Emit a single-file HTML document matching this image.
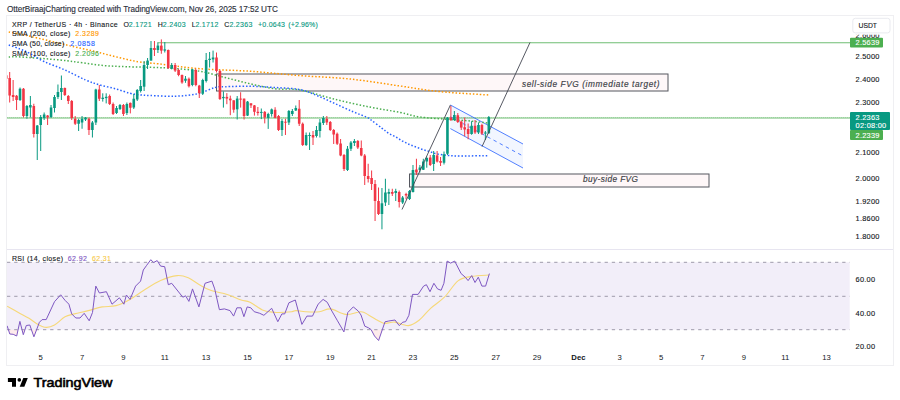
<!DOCTYPE html><html><head><meta charset="utf-8"><style>html,body{margin:0;padding:0;background:#fff;width:900px;height:400px;overflow:hidden}svg{display:block}text{font-family:"Liberation Sans",sans-serif}</style></head><body>
<svg width="900" height="400" viewBox="0 0 900 400">
<rect width="900" height="400" fill="#fff"/>
<text x="7" y="11.7" font-size="8.2" fill="#2a2e39" stroke="#2a2e39" stroke-width="0.12" textLength="270.8" lengthAdjust="spacing" >OtterBiraajCharting created with TradingView.com, Nov 26, 2025 17:52 UTC</text>
<rect x="6.5" y="15.5" width="887" height="350" fill="none" stroke="#efeff2" stroke-width="1"/>
<line x1="7" y1="249.5" x2="893" y2="249.5" stroke="#e7e5f0" stroke-width="1"/>
<defs><clipPath id="mp"><rect x="7" y="16" width="843" height="233"/></clipPath><clipPath id="rp"><rect x="7" y="250" width="843" height="100"/></clipPath></defs>
<g clip-path="url(#mp)">
<line x1="157.5" y1="42.75" x2="850" y2="42.75" stroke="#4caf50" stroke-width="1" opacity="0.8"/>
<line x1="7" y1="118" x2="850" y2="118" stroke="#4caf50" stroke-width="1" opacity="0.8"/>
<line x1="7" y1="117.5" x2="850" y2="117.5" stroke="#4caf50" stroke-width="1" stroke-dasharray="1 1" opacity="0.25"/>
<rect x="216.5" y="74" width="451.5" height="17" fill="#f23645" fill-opacity="0.04" stroke="#55575f" stroke-width="1"/>
<rect x="409.5" y="174" width="299.5" height="13" fill="#f23645" fill-opacity="0.04" stroke="#55575f" stroke-width="1"/>
<polygon points="450.4,105 523,144 523,168 450.4,128.6" fill="#2962ff" fill-opacity="0.06"/>
<line x1="450.4" y1="105" x2="523" y2="144" stroke="#2962ff" stroke-width="1" opacity="0.8"/>
<line x1="450.4" y1="128.6" x2="523" y2="168" stroke="#2962ff" stroke-width="1" opacity="0.8"/>
<line x1="450.4" y1="116.8" x2="523" y2="156" stroke="#2962ff" stroke-width="1" stroke-dasharray="3.5 3.5" opacity="0.8"/>
<path d="M8.75,32.00 C12.29,32.71 20.34,34.08 30.00,36.25 C39.66,38.42 56.15,42.52 66.70,45.00 C77.25,47.48 85.15,49.15 93.30,51.10 C101.45,53.05 108.18,54.93 115.60,56.70 C123.02,58.47 130.58,60.50 137.80,61.70 C145.02,62.90 148.53,62.73 158.90,63.90 C169.27,65.08 184.82,67.53 200.00,68.75 C215.18,69.97 233.33,70.11 250.00,71.25 C266.67,72.39 283.33,74.31 300.00,75.60 C316.67,76.89 333.33,77.27 350.00,79.00 C366.67,80.73 385.00,83.90 400.00,86.00 C415.00,88.10 425.17,90.10 440.00,91.60 C454.83,93.10 480.83,94.43 489.00,95.00" fill="none" stroke="#ff9800" stroke-width="1.5" stroke-dasharray="1.5 1.95"/>
<path d="M8.75,57.00 C10.62,56.98 11.46,56.40 20.00,56.90 C28.54,57.40 49.63,59.02 60.00,60.00 C70.37,60.98 74.80,61.87 82.20,62.80 C89.60,63.73 96.98,64.95 104.40,65.60 C111.82,66.25 117.62,66.37 126.70,66.70 C135.78,67.03 150.85,67.30 158.90,67.60 C166.95,67.90 168.15,67.89 175.00,68.50 C181.85,69.11 191.67,69.75 200.00,71.25 C208.33,72.75 216.67,75.42 225.00,77.50 C233.33,79.58 241.67,81.88 250.00,83.75 C258.33,85.62 266.67,87.71 275.00,88.75 C283.33,89.79 290.00,88.24 300.00,90.00 C310.00,91.76 323.33,96.45 335.00,99.30 C346.67,102.15 359.17,104.92 370.00,107.10 C380.83,109.28 391.67,110.75 400.00,112.40 C408.33,114.05 411.67,115.82 420.00,117.00 C428.33,118.18 441.67,118.83 450.00,119.50 C458.33,120.17 463.67,120.42 470.00,121.00 C476.33,121.58 485.00,122.67 488.00,123.00" fill="none" stroke="#4caf50" stroke-width="1.5" stroke-dasharray="1.5 1.95"/>
<path d="M8.75,45.00 C10.62,45.67 16.46,47.58 20.00,49.00 C23.54,50.42 26.00,51.42 30.00,53.50 C34.00,55.58 38.17,58.75 44.00,61.50 C49.83,64.25 58.07,66.92 65.00,70.00 C71.93,73.08 79.77,77.50 85.60,80.00 C91.43,82.50 94.93,83.52 100.00,85.00 C105.07,86.48 111.00,87.52 116.00,88.90 C121.00,90.28 126.00,92.30 130.00,93.30 C134.00,94.30 136.67,94.53 140.00,94.90 C143.33,95.27 144.17,95.28 150.00,95.50 C155.83,95.72 167.08,96.54 175.00,96.25 C182.92,95.96 190.83,95.21 197.50,93.75 C204.17,92.29 210.42,88.67 215.00,87.50 C219.58,86.33 219.17,86.96 225.00,86.75 C230.83,86.54 241.67,86.12 250.00,86.25 C258.33,86.38 266.67,86.94 275.00,87.50 C283.33,88.06 292.92,88.22 300.00,89.60 C307.08,90.97 311.67,93.42 317.50,95.75 C323.33,98.08 329.17,100.97 335.00,103.60 C340.83,106.22 347.25,109.25 352.50,111.50 C357.75,113.75 363.40,115.68 366.50,117.10 C369.60,118.52 368.55,118.17 371.10,120.00 C373.65,121.83 378.88,125.88 381.80,128.10 C384.72,130.32 386.25,131.80 388.60,133.30 C390.95,134.80 393.57,135.80 395.90,137.10 C398.23,138.40 400.35,139.87 402.60,141.10 C404.85,142.33 407.15,143.52 409.40,144.50 C411.65,145.48 413.77,146.12 416.10,147.00 C418.43,147.88 421.15,149.05 423.40,149.80 C425.65,150.55 427.43,150.84 429.60,151.50 C431.77,152.16 433.40,153.10 436.40,153.75 C439.40,154.40 443.67,155.03 447.60,155.40 C451.53,155.78 453.10,155.97 460.00,156.00 C466.90,156.03 484.17,155.67 489.00,155.60" fill="none" stroke="#2962ff" stroke-width="1.5" stroke-dasharray="1.5 1.95"/>
<rect x="5.73" y="75.30" width="1" height="3.45" fill="#f23645"/>
<rect x="4.93" y="75.30" width="2.6" height="3.45" fill="#f23645"/>
<rect x="9.18" y="72.00" width="1" height="30.50" fill="#f23645"/>
<rect x="8.38" y="78.00" width="2.6" height="17.50" fill="#f23645"/>
<rect x="12.62" y="80.00" width="1" height="21.00" fill="#f23645"/>
<rect x="11.82" y="95.00" width="2.6" height="2.00" fill="#f23645"/>
<rect x="16.07" y="95.00" width="1" height="15.00" fill="#f23645"/>
<rect x="15.27" y="95.75" width="2.6" height="4.25" fill="#f23645"/>
<rect x="19.52" y="87.50" width="1" height="13.50" fill="#089981"/>
<rect x="18.72" y="88.75" width="2.6" height="11.25" fill="#089981"/>
<rect x="22.97" y="88.00" width="1" height="29.50" fill="#f23645"/>
<rect x="22.17" y="88.75" width="2.6" height="27.25" fill="#f23645"/>
<rect x="26.41" y="105.00" width="1" height="13.75" fill="#089981"/>
<rect x="25.61" y="106.00" width="2.6" height="10.00" fill="#089981"/>
<rect x="29.86" y="96.00" width="1" height="21.50" fill="#089981"/>
<rect x="29.06" y="105.00" width="2.6" height="2.50" fill="#089981"/>
<rect x="33.31" y="103.75" width="1" height="33.75" fill="#f23645"/>
<rect x="32.51" y="106.00" width="2.6" height="28.00" fill="#f23645"/>
<rect x="36.75" y="125.00" width="1" height="35.00" fill="#089981"/>
<rect x="35.95" y="125.50" width="2.6" height="8.50" fill="#089981"/>
<rect x="40.20" y="115.00" width="1" height="36.00" fill="#089981"/>
<rect x="39.40" y="117.00" width="2.6" height="8.00" fill="#089981"/>
<rect x="43.65" y="112.50" width="1" height="7.50" fill="#089981"/>
<rect x="42.85" y="114.50" width="2.6" height="3.50" fill="#089981"/>
<rect x="47.09" y="115.00" width="1" height="10.00" fill="#f23645"/>
<rect x="46.29" y="115.50" width="2.6" height="2.00" fill="#f23645"/>
<rect x="50.54" y="105.00" width="1" height="13.00" fill="#089981"/>
<rect x="49.74" y="107.50" width="2.6" height="9.50" fill="#089981"/>
<rect x="53.99" y="95.00" width="1" height="17.50" fill="#089981"/>
<rect x="53.19" y="97.00" width="2.6" height="11.00" fill="#089981"/>
<rect x="57.44" y="84.50" width="1" height="14.50" fill="#089981"/>
<rect x="56.64" y="92.00" width="2.6" height="5.00" fill="#089981"/>
<rect x="60.88" y="75.50" width="1" height="24.50" fill="#089981"/>
<rect x="60.08" y="88.00" width="2.6" height="4.00" fill="#089981"/>
<rect x="64.33" y="87.50" width="1" height="8.50" fill="#f23645"/>
<rect x="63.53" y="88.00" width="2.6" height="7.00" fill="#f23645"/>
<rect x="67.78" y="95.00" width="1" height="9.00" fill="#f23645"/>
<rect x="66.98" y="96.00" width="2.6" height="5.00" fill="#f23645"/>
<rect x="71.22" y="100.00" width="1" height="20.00" fill="#f23645"/>
<rect x="70.42" y="101.00" width="2.6" height="17.00" fill="#f23645"/>
<rect x="74.67" y="116.00" width="1" height="9.00" fill="#f23645"/>
<rect x="73.87" y="118.75" width="2.6" height="5.00" fill="#f23645"/>
<rect x="78.12" y="118.75" width="1" height="12.25" fill="#089981"/>
<rect x="77.32" y="120.00" width="2.6" height="3.75" fill="#089981"/>
<rect x="81.56" y="116.00" width="1" height="12.75" fill="#089981"/>
<rect x="80.76" y="118.75" width="2.6" height="3.75" fill="#089981"/>
<rect x="85.01" y="117.00" width="1" height="4.00" fill="#089981"/>
<rect x="84.21" y="117.50" width="2.6" height="2.00" fill="#089981"/>
<rect x="88.46" y="117.50" width="1" height="17.50" fill="#f23645"/>
<rect x="87.66" y="118.75" width="2.6" height="11.25" fill="#f23645"/>
<rect x="91.91" y="121.00" width="1" height="16.50" fill="#089981"/>
<rect x="91.11" y="122.50" width="2.6" height="7.50" fill="#089981"/>
<rect x="95.35" y="88.75" width="1" height="36.25" fill="#089981"/>
<rect x="94.55" y="89.50" width="2.6" height="33.00" fill="#089981"/>
<rect x="98.80" y="85.00" width="1" height="16.00" fill="#f23645"/>
<rect x="98.00" y="89.50" width="2.6" height="9.25" fill="#f23645"/>
<rect x="102.25" y="93.30" width="1" height="8.30" fill="#089981"/>
<rect x="101.45" y="97.70" width="2.6" height="1.30" fill="#089981"/>
<rect x="105.69" y="93.30" width="1" height="10.10" fill="#089981"/>
<rect x="104.89" y="96.80" width="2.6" height="1.30" fill="#089981"/>
<rect x="109.14" y="94.50" width="1" height="10.50" fill="#f23645"/>
<rect x="108.34" y="96.00" width="2.6" height="8.00" fill="#f23645"/>
<rect x="112.59" y="102.50" width="1" height="12.50" fill="#f23645"/>
<rect x="111.79" y="104.00" width="2.6" height="10.00" fill="#f23645"/>
<rect x="116.03" y="106.00" width="1" height="8.00" fill="#089981"/>
<rect x="115.23" y="108.00" width="2.6" height="5.00" fill="#089981"/>
<rect x="119.48" y="104.00" width="1" height="6.00" fill="#089981"/>
<rect x="118.68" y="105.00" width="2.6" height="4.00" fill="#089981"/>
<rect x="122.93" y="104.00" width="1" height="12.00" fill="#f23645"/>
<rect x="122.13" y="105.00" width="2.6" height="9.00" fill="#f23645"/>
<rect x="126.38" y="102.50" width="1" height="12.50" fill="#089981"/>
<rect x="125.58" y="104.00" width="2.6" height="9.00" fill="#089981"/>
<rect x="129.82" y="102.50" width="1" height="10.90" fill="#f23645"/>
<rect x="129.02" y="102.90" width="2.6" height="4.85" fill="#f23645"/>
<rect x="133.27" y="94.00" width="1" height="15.00" fill="#089981"/>
<rect x="132.47" y="98.75" width="2.6" height="8.75" fill="#089981"/>
<rect x="136.72" y="89.00" width="1" height="12.00" fill="#089981"/>
<rect x="135.92" y="90.00" width="2.6" height="9.50" fill="#089981"/>
<rect x="140.16" y="80.00" width="1" height="12.50" fill="#089981"/>
<rect x="139.36" y="86.00" width="2.6" height="5.00" fill="#089981"/>
<rect x="143.61" y="61.00" width="1" height="30.00" fill="#089981"/>
<rect x="142.81" y="65.00" width="2.6" height="21.70" fill="#089981"/>
<rect x="147.06" y="58.00" width="1" height="11.00" fill="#089981"/>
<rect x="146.26" y="60.60" width="2.6" height="4.40" fill="#089981"/>
<rect x="150.50" y="41.00" width="1" height="19.60" fill="#089981"/>
<rect x="149.70" y="48.00" width="2.6" height="12.60" fill="#089981"/>
<rect x="153.95" y="41.00" width="1" height="15.00" fill="#f23645"/>
<rect x="153.15" y="48.00" width="2.6" height="2.00" fill="#f23645"/>
<rect x="157.40" y="42.50" width="1" height="10.50" fill="#089981"/>
<rect x="156.60" y="45.60" width="2.6" height="4.40" fill="#089981"/>
<rect x="160.84" y="39.40" width="1" height="14.35" fill="#f23645"/>
<rect x="160.04" y="45.60" width="2.6" height="5.00" fill="#f23645"/>
<rect x="164.29" y="42.00" width="1" height="10.50" fill="#089981"/>
<rect x="163.49" y="49.40" width="2.6" height="1.20" fill="#089981"/>
<rect x="167.74" y="49.50" width="1" height="19.50" fill="#f23645"/>
<rect x="166.94" y="50.00" width="2.6" height="18.00" fill="#f23645"/>
<rect x="171.19" y="63.00" width="1" height="6.40" fill="#089981"/>
<rect x="170.39" y="65.00" width="2.6" height="3.75" fill="#089981"/>
<rect x="174.63" y="63.00" width="1" height="9.00" fill="#f23645"/>
<rect x="173.83" y="65.00" width="2.6" height="5.60" fill="#f23645"/>
<rect x="178.08" y="68.75" width="1" height="7.50" fill="#f23645"/>
<rect x="177.28" y="70.00" width="2.6" height="5.00" fill="#f23645"/>
<rect x="181.53" y="74.50" width="1" height="9.25" fill="#f23645"/>
<rect x="180.73" y="75.00" width="2.6" height="7.50" fill="#f23645"/>
<rect x="184.97" y="76.00" width="1" height="6.80" fill="#089981"/>
<rect x="184.17" y="78.70" width="2.6" height="2.05" fill="#089981"/>
<rect x="188.42" y="77.50" width="1" height="10.00" fill="#f23645"/>
<rect x="187.62" y="78.75" width="2.6" height="7.50" fill="#f23645"/>
<rect x="191.87" y="68.75" width="1" height="17.50" fill="#089981"/>
<rect x="191.07" y="69.50" width="2.6" height="15.50" fill="#089981"/>
<rect x="195.31" y="68.75" width="1" height="17.50" fill="#f23645"/>
<rect x="194.51" y="70.00" width="2.6" height="15.00" fill="#f23645"/>
<rect x="198.76" y="84.90" width="1" height="13.10" fill="#f23645"/>
<rect x="197.96" y="85.60" width="2.6" height="7.50" fill="#f23645"/>
<rect x="202.21" y="78.75" width="1" height="16.25" fill="#089981"/>
<rect x="201.41" y="80.00" width="2.6" height="13.75" fill="#089981"/>
<rect x="205.66" y="53.00" width="1" height="29.50" fill="#089981"/>
<rect x="204.86" y="60.00" width="2.6" height="21.00" fill="#089981"/>
<rect x="209.10" y="52.00" width="1" height="15.50" fill="#089981"/>
<rect x="208.30" y="58.75" width="2.6" height="1.25" fill="#089981"/>
<rect x="212.55" y="50.60" width="1" height="11.90" fill="#089981"/>
<rect x="211.75" y="57.50" width="2.6" height="1.90" fill="#089981"/>
<rect x="216.00" y="52.50" width="1" height="20.00" fill="#f23645"/>
<rect x="215.20" y="57.50" width="2.6" height="13.50" fill="#f23645"/>
<rect x="219.44" y="70.00" width="1" height="30.00" fill="#f23645"/>
<rect x="218.64" y="71.00" width="2.6" height="28.00" fill="#f23645"/>
<rect x="222.89" y="91.40" width="1" height="16.20" fill="#089981"/>
<rect x="222.09" y="96.90" width="2.6" height="1.30" fill="#089981"/>
<rect x="226.34" y="93.10" width="1" height="11.10" fill="#f23645"/>
<rect x="225.54" y="96.90" width="2.6" height="1.70" fill="#f23645"/>
<rect x="229.79" y="95.65" width="1" height="19.55" fill="#f23645"/>
<rect x="228.99" y="98.60" width="2.6" height="1.70" fill="#f23645"/>
<rect x="233.23" y="100.30" width="1" height="12.40" fill="#f23645"/>
<rect x="232.43" y="100.30" width="2.6" height="9.40" fill="#f23645"/>
<rect x="236.68" y="96.00" width="1" height="23.50" fill="#089981"/>
<rect x="235.88" y="98.60" width="2.6" height="10.70" fill="#089981"/>
<rect x="240.13" y="92.25" width="1" height="15.35" fill="#f23645"/>
<rect x="239.33" y="98.60" width="2.6" height="1.00" fill="#f23645"/>
<rect x="243.57" y="98.60" width="1" height="20.90" fill="#f23645"/>
<rect x="242.77" y="98.60" width="2.6" height="17.40" fill="#f23645"/>
<rect x="247.02" y="101.00" width="1" height="15.00" fill="#089981"/>
<rect x="246.22" y="101.60" width="2.6" height="14.00" fill="#089981"/>
<rect x="250.47" y="103.30" width="1" height="4.70" fill="#f23645"/>
<rect x="249.67" y="103.30" width="2.6" height="2.10" fill="#f23645"/>
<rect x="253.91" y="105.00" width="1" height="10.60" fill="#f23645"/>
<rect x="253.11" y="105.40" width="2.6" height="6.40" fill="#f23645"/>
<rect x="257.36" y="107.00" width="1" height="8.60" fill="#f23645"/>
<rect x="256.56" y="111.80" width="2.6" height="1.20" fill="#f23645"/>
<rect x="260.81" y="108.50" width="1" height="10.60" fill="#089981"/>
<rect x="260.01" y="111.90" width="2.6" height="1.00" fill="#089981"/>
<rect x="264.25" y="111.00" width="1" height="12.40" fill="#f23645"/>
<rect x="263.45" y="111.90" width="2.6" height="5.50" fill="#f23645"/>
<rect x="267.70" y="112.75" width="1" height="16.15" fill="#089981"/>
<rect x="266.90" y="114.00" width="2.6" height="3.90" fill="#089981"/>
<rect x="271.15" y="108.50" width="1" height="8.10" fill="#089981"/>
<rect x="270.35" y="109.35" width="2.6" height="4.65" fill="#089981"/>
<rect x="274.60" y="107.20" width="1" height="11.10" fill="#f23645"/>
<rect x="273.80" y="109.80" width="2.6" height="8.10" fill="#f23645"/>
<rect x="278.04" y="115.00" width="1" height="16.00" fill="#f23645"/>
<rect x="277.24" y="116.00" width="2.6" height="14.00" fill="#f23645"/>
<rect x="281.49" y="119.00" width="1" height="17.00" fill="#089981"/>
<rect x="280.69" y="121.00" width="2.6" height="9.00" fill="#089981"/>
<rect x="284.94" y="118.70" width="1" height="16.30" fill="#f23645"/>
<rect x="284.14" y="121.70" width="2.6" height="1.00" fill="#f23645"/>
<rect x="288.38" y="110.00" width="1" height="15.00" fill="#089981"/>
<rect x="287.58" y="111.00" width="2.6" height="11.50" fill="#089981"/>
<rect x="291.83" y="109.00" width="1" height="7.00" fill="#089981"/>
<rect x="291.03" y="111.00" width="2.6" height="3.00" fill="#089981"/>
<rect x="295.28" y="105.50" width="1" height="5.50" fill="#089981"/>
<rect x="294.48" y="108.00" width="2.6" height="2.50" fill="#089981"/>
<rect x="298.72" y="100.00" width="1" height="26.00" fill="#f23645"/>
<rect x="297.92" y="108.75" width="2.6" height="15.00" fill="#f23645"/>
<rect x="302.17" y="122.50" width="1" height="23.50" fill="#f23645"/>
<rect x="301.37" y="123.75" width="2.6" height="21.25" fill="#f23645"/>
<rect x="305.62" y="132.50" width="1" height="13.50" fill="#089981"/>
<rect x="304.82" y="135.00" width="2.6" height="10.00" fill="#089981"/>
<rect x="309.07" y="132.50" width="1" height="17.50" fill="#089981"/>
<rect x="308.27" y="135.00" width="2.6" height="1.00" fill="#089981"/>
<rect x="312.51" y="131.00" width="1" height="14.00" fill="#f23645"/>
<rect x="311.71" y="135.00" width="2.6" height="2.50" fill="#f23645"/>
<rect x="315.96" y="126.00" width="1" height="11.50" fill="#089981"/>
<rect x="315.16" y="130.00" width="2.6" height="6.00" fill="#089981"/>
<rect x="319.41" y="119.00" width="1" height="18.50" fill="#089981"/>
<rect x="318.61" y="122.50" width="2.6" height="8.50" fill="#089981"/>
<rect x="322.85" y="116.00" width="1" height="9.00" fill="#089981"/>
<rect x="322.05" y="118.00" width="2.6" height="5.00" fill="#089981"/>
<rect x="326.30" y="116.00" width="1" height="9.00" fill="#f23645"/>
<rect x="325.50" y="118.75" width="2.6" height="3.75" fill="#f23645"/>
<rect x="329.75" y="121.00" width="1" height="10.00" fill="#f23645"/>
<rect x="328.95" y="122.00" width="2.6" height="8.00" fill="#f23645"/>
<rect x="333.19" y="129.00" width="1" height="15.00" fill="#f23645"/>
<rect x="332.39" y="130.00" width="2.6" height="4.50" fill="#f23645"/>
<rect x="336.64" y="132.50" width="1" height="12.50" fill="#f23645"/>
<rect x="335.84" y="133.75" width="2.6" height="10.00" fill="#f23645"/>
<rect x="340.09" y="139.00" width="1" height="17.25" fill="#f23645"/>
<rect x="339.29" y="143.50" width="2.6" height="12.00" fill="#f23645"/>
<rect x="343.54" y="154.00" width="1" height="17.00" fill="#f23645"/>
<rect x="342.74" y="155.00" width="2.6" height="14.00" fill="#f23645"/>
<rect x="346.98" y="146.00" width="1" height="25.00" fill="#089981"/>
<rect x="346.18" y="148.75" width="2.6" height="21.25" fill="#089981"/>
<rect x="350.43" y="141.00" width="1" height="10.00" fill="#089981"/>
<rect x="349.63" y="142.50" width="2.6" height="6.25" fill="#089981"/>
<rect x="353.88" y="139.00" width="1" height="7.00" fill="#089981"/>
<rect x="353.08" y="141.00" width="2.6" height="2.00" fill="#089981"/>
<rect x="357.32" y="140.00" width="1" height="9.00" fill="#f23645"/>
<rect x="356.52" y="141.00" width="2.6" height="6.50" fill="#f23645"/>
<rect x="360.77" y="140.50" width="1" height="15.75" fill="#f23645"/>
<rect x="359.97" y="148.00" width="2.6" height="7.50" fill="#f23645"/>
<rect x="364.22" y="154.00" width="1" height="31.00" fill="#f23645"/>
<rect x="363.42" y="155.50" width="2.6" height="20.50" fill="#f23645"/>
<rect x="367.67" y="163.75" width="1" height="18.75" fill="#f23645"/>
<rect x="366.87" y="176.00" width="2.6" height="3.00" fill="#f23645"/>
<rect x="371.11" y="170.50" width="1" height="19.50" fill="#f23645"/>
<rect x="370.31" y="178.00" width="2.6" height="6.00" fill="#f23645"/>
<rect x="374.56" y="180.00" width="1" height="41.00" fill="#f23645"/>
<rect x="373.76" y="184.00" width="2.6" height="17.00" fill="#f23645"/>
<rect x="378.01" y="187.50" width="1" height="27.50" fill="#f23645"/>
<rect x="377.21" y="201.00" width="2.6" height="13.00" fill="#f23645"/>
<rect x="381.45" y="188.00" width="1" height="41.30" fill="#089981"/>
<rect x="380.65" y="203.30" width="2.6" height="10.70" fill="#089981"/>
<rect x="384.90" y="178.75" width="1" height="27.25" fill="#089981"/>
<rect x="384.10" y="192.50" width="2.6" height="10.00" fill="#089981"/>
<rect x="388.35" y="188.75" width="1" height="16.25" fill="#089981"/>
<rect x="387.55" y="192.00" width="2.6" height="1.75" fill="#089981"/>
<rect x="391.79" y="188.75" width="1" height="7.25" fill="#f23645"/>
<rect x="390.99" y="192.00" width="2.6" height="1.75" fill="#f23645"/>
<rect x="395.24" y="188.75" width="1" height="12.25" fill="#089981"/>
<rect x="394.44" y="191.00" width="2.6" height="2.00" fill="#089981"/>
<rect x="398.69" y="190.50" width="1" height="17.00" fill="#f23645"/>
<rect x="397.89" y="192.00" width="2.6" height="10.00" fill="#f23645"/>
<rect x="402.13" y="196.00" width="1" height="8.00" fill="#089981"/>
<rect x="401.33" y="197.50" width="2.6" height="5.00" fill="#089981"/>
<rect x="405.58" y="192.75" width="1" height="6.55" fill="#f23645"/>
<rect x="404.78" y="194.00" width="2.6" height="1.50" fill="#f23645"/>
<rect x="409.03" y="190.00" width="1" height="10.00" fill="#089981"/>
<rect x="408.23" y="191.00" width="2.6" height="8.00" fill="#089981"/>
<rect x="412.48" y="165.00" width="1" height="27.50" fill="#089981"/>
<rect x="411.68" y="170.00" width="2.6" height="22.00" fill="#089981"/>
<rect x="415.92" y="158.75" width="1" height="16.25" fill="#f23645"/>
<rect x="415.12" y="169.50" width="2.6" height="3.00" fill="#f23645"/>
<rect x="419.37" y="165.00" width="1" height="7.50" fill="#089981"/>
<rect x="418.57" y="167.50" width="2.6" height="2.50" fill="#089981"/>
<rect x="422.82" y="158.75" width="1" height="11.25" fill="#089981"/>
<rect x="422.02" y="161.50" width="2.6" height="8.25" fill="#089981"/>
<rect x="426.26" y="156.70" width="1" height="11.00" fill="#089981"/>
<rect x="425.46" y="158.00" width="2.6" height="3.50" fill="#089981"/>
<rect x="429.71" y="155.00" width="1" height="11.00" fill="#f23645"/>
<rect x="428.91" y="157.50" width="2.6" height="7.50" fill="#f23645"/>
<rect x="433.16" y="151.00" width="1" height="20.00" fill="#089981"/>
<rect x="432.36" y="155.00" width="2.6" height="9.00" fill="#089981"/>
<rect x="436.61" y="151.00" width="1" height="11.50" fill="#f23645"/>
<rect x="435.81" y="155.40" width="2.6" height="6.20" fill="#f23645"/>
<rect x="440.05" y="157.00" width="1" height="9.00" fill="#f23645"/>
<rect x="439.25" y="161.00" width="2.6" height="1.75" fill="#f23645"/>
<rect x="443.50" y="151.50" width="1" height="13.00" fill="#089981"/>
<rect x="442.70" y="154.30" width="2.6" height="8.45" fill="#089981"/>
<rect x="446.95" y="117.00" width="1" height="38.00" fill="#089981"/>
<rect x="446.15" y="117.50" width="2.6" height="36.25" fill="#089981"/>
<rect x="450.39" y="106.00" width="1" height="15.00" fill="#f23645"/>
<rect x="449.59" y="117.50" width="2.6" height="2.50" fill="#f23645"/>
<rect x="453.84" y="111.00" width="1" height="10.00" fill="#089981"/>
<rect x="453.04" y="115.00" width="2.6" height="5.00" fill="#089981"/>
<rect x="457.29" y="113.00" width="1" height="10.00" fill="#f23645"/>
<rect x="456.49" y="115.25" width="2.6" height="6.75" fill="#f23645"/>
<rect x="460.73" y="120.50" width="1" height="9.50" fill="#f23645"/>
<rect x="459.93" y="121.60" width="2.6" height="6.00" fill="#f23645"/>
<rect x="464.18" y="117.50" width="1" height="18.75" fill="#f23645"/>
<rect x="463.38" y="127.25" width="2.6" height="2.25" fill="#f23645"/>
<rect x="467.63" y="123.50" width="1" height="15.75" fill="#f23645"/>
<rect x="466.83" y="129.00" width="2.6" height="5.00" fill="#f23645"/>
<rect x="471.07" y="121.25" width="1" height="13.50" fill="#089981"/>
<rect x="470.27" y="125.75" width="2.6" height="8.25" fill="#089981"/>
<rect x="474.52" y="120.00" width="1" height="14.00" fill="#f23645"/>
<rect x="473.72" y="125.75" width="2.6" height="6.75" fill="#f23645"/>
<rect x="477.97" y="122.50" width="1" height="11.50" fill="#089981"/>
<rect x="477.17" y="125.00" width="2.6" height="7.50" fill="#089981"/>
<rect x="481.42" y="123.75" width="1" height="11.25" fill="#f23645"/>
<rect x="480.62" y="125.00" width="2.6" height="8.60" fill="#f23645"/>
<rect x="484.86" y="131.00" width="1" height="9.00" fill="#089981"/>
<rect x="484.06" y="132.50" width="2.6" height="1.10" fill="#089981"/>
<rect x="488.31" y="116.00" width="1" height="17.75" fill="#089981"/>
<rect x="487.51" y="117.10" width="2.6" height="16.15" fill="#089981"/>
<line x1="402" y1="209.5" x2="450.4" y2="105" stroke="#434651" stroke-width="0.9"/>
<line x1="482" y1="146.6" x2="530" y2="42.5" stroke="#434651" stroke-width="0.9"/>
<text x="521.9" y="86.7" font-size="8.3" fill="#3a3d45" stroke="#3a3d45" stroke-width="0.15" textLength="137.6" lengthAdjust="spacing" font-style="italic">sell-side FVG (immediate target)</text>
<text x="583" y="181.8" font-size="8.3" fill="#3a3d45" stroke="#3a3d45" stroke-width="0.15" textLength="55.0" lengthAdjust="spacing" font-style="italic">buy-side FVG</text>
</g>
<text x="11.9" y="26.7" font-size="7.0" fill="#131722" stroke="#131722" stroke-width="0.12" textLength="105.8" lengthAdjust="spacing" >XRP / TetherUS · 4h · Binance</text>
<text x="123.4" y="26.7" font-size="7.0" fill="#131722" stroke="#131722" stroke-width="0.12" textLength="5.2" lengthAdjust="spacing" >O</text>
<text x="128.8" y="26.7" font-size="7.0" fill="#089981" stroke="#089981" stroke-width="0.12" textLength="22.9" lengthAdjust="spacing" >2.1721</text>
<text x="157.7" y="26.7" font-size="7.0" fill="#131722" stroke="#131722" stroke-width="0.12" textLength="4.9" lengthAdjust="spacing" >H</text>
<text x="162.8" y="26.7" font-size="7.0" fill="#089981" stroke="#089981" stroke-width="0.12" textLength="22.9" lengthAdjust="spacing" >2.2403</text>
<text x="191.7" y="26.7" font-size="7.0" fill="#131722" stroke="#131722" stroke-width="0.12" textLength="3.6" lengthAdjust="spacing" >L</text>
<text x="195.4" y="26.7" font-size="7.0" fill="#089981" stroke="#089981" stroke-width="0.12" textLength="22.9" lengthAdjust="spacing" >2.1712</text>
<text x="224.3" y="26.7" font-size="7.0" fill="#131722" stroke="#131722" stroke-width="0.12" textLength="4.9" lengthAdjust="spacing" >C</text>
<text x="229.4" y="26.7" font-size="7.0" fill="#089981" stroke="#089981" stroke-width="0.12" textLength="22.9" lengthAdjust="spacing" >2.2363</text>
<text x="258" y="26.7" font-size="7.0" fill="#089981" stroke="#089981" stroke-width="0.12" textLength="27.0" lengthAdjust="spacing" >+0.0643</text>
<text x="288.3" y="26.7" font-size="7.0" fill="#089981" stroke="#089981" stroke-width="0.12" textLength="29.5" lengthAdjust="spacing" >(+2.96%)</text>
<text x="11.9" y="36.3" font-size="7.0" fill="#131722" stroke="#131722" stroke-width="0.12" textLength="58.4" lengthAdjust="spacing" >SMA (200, close)</text>
<text x="75.3" y="36.3" font-size="7.0" fill="#ff9800" stroke="#ff9800" stroke-width="0.12" textLength="23.7" lengthAdjust="spacing" >2.3289</text>
<text x="11.9" y="45.9" font-size="7.0" fill="#131722" stroke="#131722" stroke-width="0.12" textLength="52.4" lengthAdjust="spacing" >SMA (50, close)</text>
<text x="70.3" y="45.9" font-size="7.0" fill="#2962ff" stroke="#2962ff" stroke-width="0.12" textLength="24.7" lengthAdjust="spacing" >2.0858</text>
<text x="11.9" y="55.7" font-size="7.0" fill="#131722" stroke="#131722" stroke-width="0.12" textLength="58.4" lengthAdjust="spacing" >SMA (100, close)</text>
<text x="75.3" y="55.7" font-size="7.0" fill="#4caf50" stroke="#4caf50" stroke-width="0.12" textLength="23.7" lengthAdjust="spacing" >2.2096</text>
<text x="855.6" y="59.2" font-size="7.4" fill="#131722" stroke="#131722" stroke-width="0.12" textLength="23.8" lengthAdjust="spacing" >2.5000</text>
<text x="855.6" y="81.5" font-size="7.4" fill="#131722" stroke="#131722" stroke-width="0.12" textLength="23.8" lengthAdjust="spacing" >2.4000</text>
<text x="855.6" y="104.8" font-size="7.4" fill="#131722" stroke="#131722" stroke-width="0.12" textLength="23.8" lengthAdjust="spacing" >2.3000</text>
<text x="855.6" y="154.6" font-size="7.4" fill="#131722" stroke="#131722" stroke-width="0.12" textLength="23.8" lengthAdjust="spacing" >2.1000</text>
<text x="855.6" y="181.3" font-size="7.4" fill="#131722" stroke="#131722" stroke-width="0.12" textLength="23.8" lengthAdjust="spacing" >2.0000</text>
<text x="855.6" y="203.7" font-size="7.4" fill="#131722" stroke="#131722" stroke-width="0.12" textLength="23.8" lengthAdjust="spacing" >1.9200</text>
<text x="855.6" y="221.0" font-size="7.4" fill="#131722" stroke="#131722" stroke-width="0.12" textLength="23.8" lengthAdjust="spacing" >1.8600</text>
<text x="855.6" y="239.0" font-size="7.4" fill="#131722" stroke="#131722" stroke-width="0.12" textLength="23.8" lengthAdjust="spacing" >1.8000</text>
<text x="855.6" y="37.7" font-size="7.4" fill="#131722" stroke="#131722" stroke-width="0.12" textLength="23.8" lengthAdjust="spacing" >2.6000</text>
<rect x="850" y="16" width="43" height="18.7" fill="#fff"/>
<rect x="852.8" y="18.3" width="37.2" height="14.6" rx="2.5" fill="#fff" stroke="#e9eaef" stroke-width="1"/>
<text x="858.5" y="27.5" font-size="7.0" fill="#131722" stroke="#131722" stroke-width="0.12" textLength="18.5" lengthAdjust="spacingAndGlyphs" >USDT</text>
<rect x="850" y="37.75" width="33" height="9.75" rx="1" fill="#4caf50"/>
<text x="855.6" y="45.4" font-size="7.4" fill="#fff" stroke="#fff" stroke-width="0.12" textLength="23.8" lengthAdjust="spacing" >2.5639</text>
<rect x="850" y="112" width="40" height="18" rx="1" fill="#089981"/>
<text x="855.6" y="120.2" font-size="7.4" fill="#fff" stroke="#fff" stroke-width="0.12" textLength="23.8" lengthAdjust="spacing" >2.2363</text>
<text x="855.6" y="128.3" font-size="7.4" fill="#fff" stroke="#fff" stroke-width="0.12" textLength="30.6" lengthAdjust="spacing" >02:08:00</text>
<rect x="850" y="130" width="33" height="10" rx="1" fill="#4caf50"/>
<text x="855.6" y="138.1" font-size="7.4" fill="#fff" stroke="#fff" stroke-width="0.12" textLength="23.8" lengthAdjust="spacing" >2.2339</text>
<g clip-path="url(#rp)">
<rect x="7" y="262.3" width="842.7" height="67.4" fill="#7e57c2" fill-opacity="0.1"/>
<polygon points="8.4,329.7 9.8,334.0 13.2,334.3 16.7,336.0 18.1,329.7" fill="#f23645" fill-opacity="0.1"/>
<polygon points="22.0,329.7 23.3,334.7 24.9,329.7" fill="#f23645" fill-opacity="0.1"/>
<polygon points="31.4,329.7 33.9,336.8 36.6,329.7" fill="#f23645" fill-opacity="0.1"/>
<polygon points="342.6,329.7 343.9,331.9 344.3,329.7" fill="#f23645" fill-opacity="0.1"/>
<polygon points="371.2,329.7 374.5,336.0 378.6,340.5 382.3,329.7" fill="#f23645" fill-opacity="0.1"/>
<line x1="7" y1="262.3" x2="849.7" y2="262.3" stroke="#9e9aab" stroke-width="1" stroke-dasharray="3.3 3.9"/>
<line x1="7" y1="296.3" x2="849.7" y2="296.3" stroke="#9e9aab" stroke-width="1" stroke-dasharray="3.3 3.9"/>
<line x1="7" y1="329.7" x2="849.7" y2="329.7" stroke="#9e9aab" stroke-width="1" stroke-dasharray="3.3 3.9"/>
<path d="M7.10,306.20 C9.04,307.28 15.10,310.70 18.75,312.70 C22.40,314.70 25.79,316.25 29.00,318.20 C32.21,320.15 35.12,322.87 38.00,324.40 C40.88,325.93 43.50,327.30 46.25,327.40 C49.00,327.50 51.38,326.77 54.50,325.00 C57.62,323.23 61.68,318.65 65.00,316.80 C68.32,314.95 70.52,314.93 74.40,313.90 C78.28,312.87 83.67,311.77 88.30,310.60 C92.93,309.43 97.57,307.73 102.20,306.90 C106.83,306.07 111.47,306.85 116.10,305.60 C120.73,304.35 125.37,301.95 130.00,299.40 C134.63,296.85 138.80,293.43 143.90,290.30 C149.00,287.17 155.05,283.05 160.60,280.60 C166.15,278.15 172.58,276.07 177.20,275.60 C181.82,275.13 184.60,276.28 188.30,277.80 C192.00,279.32 195.68,282.62 199.40,284.70 C203.12,286.78 205.97,288.68 210.60,290.30 C215.23,291.92 222.12,292.78 227.20,294.40 C232.28,296.02 237.30,298.70 241.10,300.00 C244.90,301.30 246.20,300.43 250.00,302.20 C253.80,303.97 259.27,308.88 263.90,310.60 C268.53,312.32 273.17,312.32 277.80,312.50 C282.43,312.68 288.70,312.02 291.70,311.70 C294.70,311.38 293.48,310.60 295.80,310.60 C298.12,310.60 301.67,311.52 305.60,311.70 C309.53,311.88 315.23,312.17 319.40,311.70 C323.57,311.23 326.20,308.45 330.60,308.90 C335.00,309.35 340.72,313.93 345.80,314.40 C350.88,314.87 357.32,311.60 361.10,311.70 C364.88,311.80 365.77,313.57 368.50,315.00 C371.23,316.43 375.00,318.88 377.50,320.25 C380.00,321.62 381.62,322.81 383.50,323.25 C385.38,323.69 386.83,323.09 388.75,322.90 C390.67,322.71 391.74,321.65 395.00,322.10 C398.26,322.55 404.23,325.95 408.30,325.60 C412.37,325.25 415.68,322.88 419.40,320.00 C423.12,317.12 426.43,312.10 430.60,308.30 C434.77,304.50 439.78,301.82 444.40,297.20 C449.02,292.58 453.67,284.07 458.30,280.60 C462.93,277.13 467.10,277.33 472.20,276.40 C477.30,275.47 486.12,275.23 488.90,275.00" fill="none" stroke="#f6d878" stroke-width="1.1"/>
<polyline points="7.1,325.8 9.8,334.0 13.2,334.3 16.7,336.0 19.9,321.4 23.3,334.7 26.3,325.5 29.8,325.0 33.9,336.8 39.4,322.3 42.1,319.6 46.2,319.6 54.5,301.7 60.7,294.8 65.0,300.3 68.9,304.2 71.7,313.9 75.8,318.0 80.0,318.0 84.2,313.3 89.2,320.8 92.5,312.5 95.8,286.1 99.4,293.0 106.4,291.7 112.0,304.2 119.4,297.8 123.9,304.2 126.4,295.0 130.0,299.4 135.6,286.1 140.6,281.1 143.3,270.0 146.7,265.3 150.8,259.7 153.6,262.5 157.2,260.6 160.6,266.1 164.7,266.7 168.3,284.7 171.7,283.3 182.8,297.2 185.6,295.8 188.9,301.4 192.5,288.9 198.9,306.9 205.0,283.3 211.9,281.1 214.7,288.9 219.4,309.7 224.4,308.9 230.0,310.6 233.6,316.1 236.9,307.8 241.1,307.8 243.9,316.7 247.2,306.9 250.8,307.8 254.2,311.7 259.7,313.3 263.9,315.3 271.7,308.3 277.8,321.7 281.9,313.9 284.7,313.9 288.9,302.8 295.3,300.0 301.9,324.4 306.9,316.1 312.5,316.1 318.1,304.2 323.1,299.4 327.2,302.2 331.9,311.1 337.5,320.8 343.9,331.9 347.8,312.5 353.3,306.9 358.3,311.1 361.0,315.0 364.8,326.2 368.5,327.8 371.1,329.6 374.5,336.0 378.6,340.5 385.0,321.8 388.8,321.0 395.0,320.0 399.2,325.6 402.8,322.2 405.6,321.7 408.9,315.3 412.5,294.4 418.1,294.4 423.6,286.1 426.4,284.7 430.0,291.7 433.9,283.3 437.5,288.9 441.1,290.3 443.9,283.3 447.2,261.1 450.6,263.1 454.7,261.1 461.1,273.6 465.3,277.2 468.1,280.6 471.7,275.6 475.0,282.5 478.3,277.2 481.9,286.1 485.6,286.1 489.4,273.6" fill="none" stroke="#7e57c2" stroke-width="1"/>
</g>
<text x="11.9" y="260.7" font-size="7.0" fill="#131722" stroke="#131722" stroke-width="0.12" textLength="51.1" lengthAdjust="spacing" >RSI (14, close)</text>
<text x="67.7" y="260.7" font-size="7.0" fill="#7e57c2" stroke="#7e57c2" stroke-width="0.12" textLength="19.3" lengthAdjust="spacing" >62.92</text>
<text x="91.9" y="260.7" font-size="7.0" fill="#f7c948" stroke="#f7c948" stroke-width="0.12" textLength="19.1" lengthAdjust="spacing" >62.31</text>
<text x="855.6" y="281.8" font-size="7.4" fill="#131722" stroke="#131722" stroke-width="0.12" textLength="19.4" lengthAdjust="spacing" >60.00</text>
<text x="855.6" y="315.5" font-size="7.4" fill="#131722" stroke="#131722" stroke-width="0.12" textLength="19.4" lengthAdjust="spacing" >40.00</text>
<text x="855.6" y="349.3" font-size="7.4" fill="#131722" stroke="#131722" stroke-width="0.12" textLength="19.4" lengthAdjust="spacing" >20.00</text>
<text x="40.7" y="360.4" font-size="7.7" text-anchor="middle" font-weight="normal" fill="#131722">5</text>
<text x="82.1" y="360.4" font-size="7.7" text-anchor="middle" font-weight="normal" fill="#131722">7</text>
<text x="123.4" y="360.4" font-size="7.7" text-anchor="middle" font-weight="normal" fill="#131722">9</text>
<text x="164.8" y="360.4" font-size="7.7" text-anchor="middle" font-weight="normal" fill="#131722">11</text>
<text x="206.1" y="360.4" font-size="7.7" text-anchor="middle" font-weight="normal" fill="#131722">13</text>
<text x="247.5" y="360.4" font-size="7.7" text-anchor="middle" font-weight="normal" fill="#131722">15</text>
<text x="288.9" y="360.4" font-size="7.7" text-anchor="middle" font-weight="normal" fill="#131722">17</text>
<text x="330.2" y="360.4" font-size="7.7" text-anchor="middle" font-weight="normal" fill="#131722">19</text>
<text x="371.6" y="360.4" font-size="7.7" text-anchor="middle" font-weight="normal" fill="#131722">21</text>
<text x="412.9" y="360.4" font-size="7.7" text-anchor="middle" font-weight="normal" fill="#131722">23</text>
<text x="454.3" y="360.4" font-size="7.7" text-anchor="middle" font-weight="normal" fill="#131722">25</text>
<text x="495.7" y="360.4" font-size="7.7" text-anchor="middle" font-weight="normal" fill="#131722">27</text>
<text x="537.0" y="360.4" font-size="7.7" text-anchor="middle" font-weight="normal" fill="#131722">29</text>
<text x="578.4" y="360.4" font-size="7.7" text-anchor="middle" font-weight="bold" fill="#131722">Dec</text>
<text x="619.7" y="360.4" font-size="7.7" text-anchor="middle" font-weight="normal" fill="#131722">3</text>
<text x="661.1" y="360.4" font-size="7.7" text-anchor="middle" font-weight="normal" fill="#131722">5</text>
<text x="702.5" y="360.4" font-size="7.7" text-anchor="middle" font-weight="normal" fill="#131722">7</text>
<text x="743.8" y="360.4" font-size="7.7" text-anchor="middle" font-weight="normal" fill="#131722">9</text>
<text x="785.2" y="360.4" font-size="7.7" text-anchor="middle" font-weight="normal" fill="#131722">11</text>
<text x="826.5" y="360.4" font-size="7.7" text-anchor="middle" font-weight="normal" fill="#131722">13</text>
<g fill="#000">
<path d="M7.9,378 H16 V386.8 H12 V381.9 H7.9 Z"/>
<circle cx="19.3" cy="379.9" r="1.8"/>
<path d="M23.3,378 H27.8 L24.3,386.8 H19.7 Z"/>
</g>
<text x="33.4" y="386.7" font-size="11.9" fill="#000" stroke="#000" stroke-width="0.55" textLength="79.1" lengthAdjust="spacingAndGlyphs" >TradingView</text>
</svg></body></html>
